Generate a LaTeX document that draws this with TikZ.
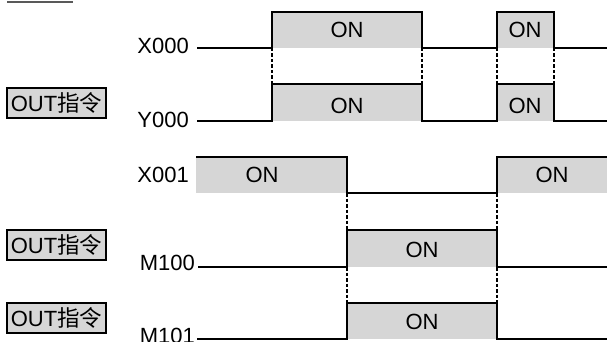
\documentclass[tikz,border=0pt]{standalone}
\usepackage{fontspec}
\setmainfont{Liberation Sans}
\newfontfamily\cjkfont{Noto Sans CJK SC}
\usetikzlibrary{positioning}
\definecolor{onfill}{HTML}{D6D6D6}

\begin{document}
\begin{tikzpicture}[x=1pt, y=-1pt,
        signal/.style={draw=black, line width=1.5pt},
        pulse/.style={fill=onfill},
        sync/.style={draw=black, line width=1.2pt, dash pattern=on 3.5pt off 2pt},
        siglabel/.style={font=\fontsize{22}{26}\selectfont, inner sep=0pt, anchor=east},
        onlabel/.style={font=\fontsize{22}{26}\selectfont, inner sep=0pt},
        outbox/.style={draw=black, line width=1.5pt, fill=onfill, font=\fontsize{22}{26}\selectfont,
            minimum width=99pt, minimum height=30pt, inner sep=0pt}
    ]
    \useasboundingbox (0,0) rectangle (607,342);

    % top rule
    \draw[gray!70!black, line width=1.5pt] (7,2) -- (73,2);

    % GREY ON AREAS
    \foreach \xa/\xb/\hi/\lo in {272/422/12/48, 497/554/12/48, 272/422/84/121, 497/554/84/121,
                                 196/347/157/193, 497/607/157/193, 347/497/230/267, 347/497/303/339} {
        \fill[pulse] (\xa,\hi) rectangle (\xb,\lo);
    }

    % SIGNALS
    \draw[signal] (197,48) -- (272,48) -- (272,12) -- (422,12) -- (422,48) -- (497,48)
        -- (497,12) -- (554,12) -- (554,48) -- (607,48);
    \draw[signal] (197,121) -- (272,121) -- (272,84) -- (422,84) -- (422,121) -- (497,121)
        -- (497,84) -- (554,84) -- (554,121) -- (607,121);
    \draw[signal] (196,157) -- (347,157) -- (347,193) -- (497,193) -- (497,157) -- (607,157);
    \draw[signal] (198,267) -- (347,267) -- (347,230) -- (497,230) -- (497,267) -- (607,267);
    \draw[signal] (197,339) -- (347,339) -- (347,303) -- (497,303) -- (497,339) -- (607,339);

    % dashed sync lines
    \foreach \x in {272, 422, 497, 554} {
        \draw[sync] (\x,48) -- (\x,84);
    }
    \foreach \x in {347, 497} {
        \draw[sync] (\x,193) -- (\x,230);
        \draw[sync] (\x,267) -- (\x,303);
    }

    % signal names
    \node[siglabel] (x0) at (189,46) {X000};
    \node[siglabel] (y0) at (189,120) {Y000};
    \node[siglabel] (x1) at (189,175) {X001};
    \node[siglabel] (m0) at (195,263) {M100};
    \node[siglabel] (m1) at (195,336) {M101};

    % ON labels
    \foreach \x/\y [count=\i] in {347/30, 525/30, 347/106, 525/106, 262/175, 552/175, 422/250, 422/322} {
        \node[onlabel] (on\i) at (\x,\y) {ON};
    }

    % OUT instruction boxes
    \node[outbox] (out1) at (56.5,103) {OUT{\cjkfont\fontsize{22.5}{26}\selectfont 指令}};
    \node[outbox] (out2) at (56.5,245) {OUT{\cjkfont\fontsize{22.5}{26}\selectfont 指令}};
    \node[outbox] (out3) at (56.5,318) {OUT{\cjkfont\fontsize{22.5}{26}\selectfont 指令}};
\end{tikzpicture}
\end{document}
